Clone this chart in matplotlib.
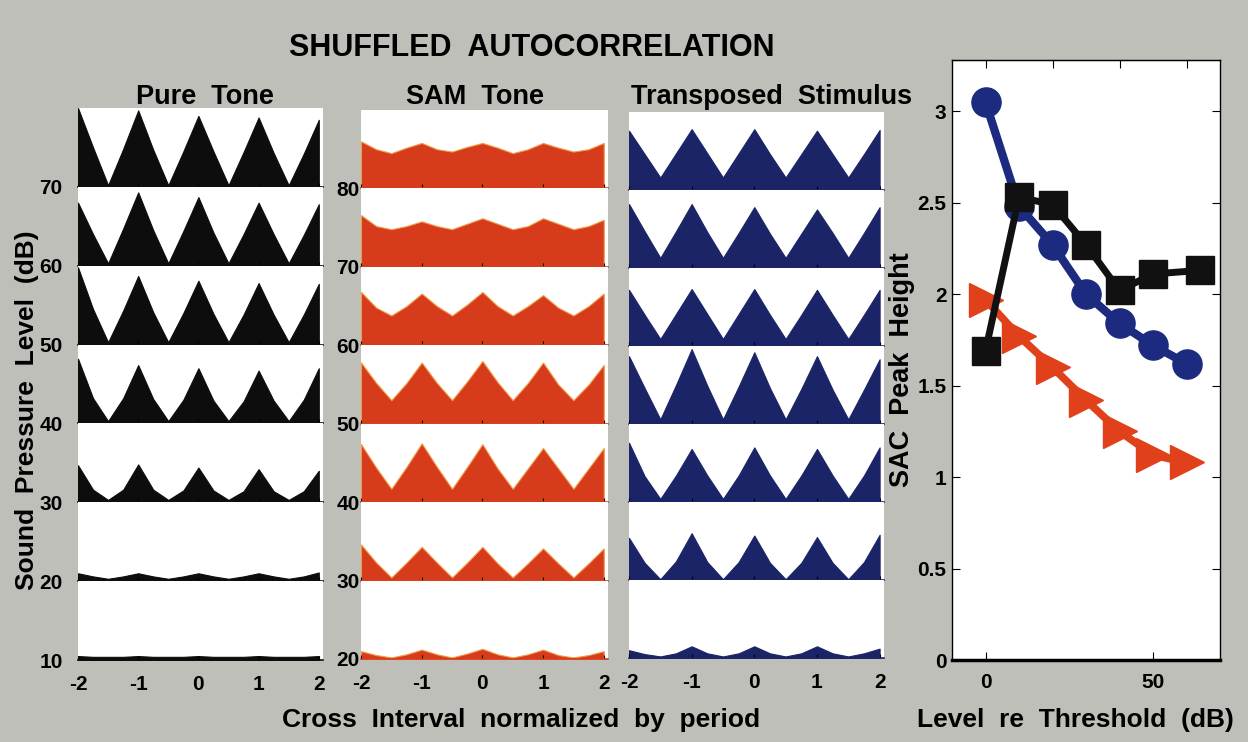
import matplotlib
matplotlib.use('Agg')
import matplotlib.pyplot as plt
import numpy as np

W, H = 1248, 742
FONT = ['Liberation Sans', 'DejaVu Sans']
BG = '#bfbfba'

# cross interval grid (normalized by period) at which the SAC curves were read
cross_interval = [-2, -1.75, -1.5, -1.25, -1, -0.75, -0.5, -0.25, 0,
                  0.25, 0.5, 0.75, 1, 1.25, 1.5, 1.75, 2]
xtick_vals = [-2, -1, 0, 1, 2]

# normalized SAC, top row first (fraction of each row's height)
pure_levels = ['70', '60', '50', '40', '30', '20', '10']
pure_sac = [
    [1.00, 0.50, 0.02, 0.48, 0.97, 0.47, 0.02, 0.45, 0.90, 0.45, 0.02, 0.44, 0.88, 0.43, 0.02, 0.42, 0.85],
    [0.80, 0.40, 0.03, 0.47, 0.93, 0.45, 0.03, 0.44, 0.87, 0.42, 0.03, 0.40, 0.80, 0.40, 0.03, 0.39, 0.78],
    [0.98, 0.45, 0.03, 0.43, 0.87, 0.41, 0.03, 0.40, 0.81, 0.39, 0.03, 0.38, 0.78, 0.38, 0.03, 0.38, 0.77],
    [0.82, 0.32, 0.03, 0.32, 0.74, 0.31, 0.03, 0.30, 0.70, 0.29, 0.03, 0.28, 0.67, 0.29, 0.03, 0.30, 0.70],
    [0.47, 0.16, 0.03, 0.16, 0.48, 0.16, 0.03, 0.15, 0.44, 0.15, 0.03, 0.14, 0.42, 0.14, 0.03, 0.14, 0.40],
    [0.10, 0.06, 0.03, 0.06, 0.10, 0.06, 0.03, 0.06, 0.10, 0.06, 0.03, 0.06, 0.10, 0.06, 0.03, 0.06, 0.11],
    [0.05, 0.04, 0.04, 0.04, 0.05, 0.04, 0.04, 0.04, 0.05, 0.04, 0.04, 0.04, 0.05, 0.04, 0.04, 0.04, 0.05],
]
sam_levels = ['80', '70', '60', '50', '40', '30', '20']
sam_sac = [
    [0.60, 0.50, 0.45, 0.52, 0.58, 0.50, 0.47, 0.53, 0.58, 0.52, 0.45, 0.50, 0.58, 0.52, 0.47, 0.50, 0.58],
    [0.66, 0.52, 0.48, 0.52, 0.58, 0.52, 0.48, 0.55, 0.62, 0.55, 0.48, 0.52, 0.62, 0.55, 0.48, 0.52, 0.60],
    [0.68, 0.48, 0.38, 0.50, 0.66, 0.50, 0.38, 0.52, 0.68, 0.50, 0.38, 0.50, 0.64, 0.48, 0.38, 0.50, 0.66],
    [0.78, 0.52, 0.30, 0.52, 0.78, 0.52, 0.30, 0.54, 0.80, 0.53, 0.30, 0.52, 0.78, 0.50, 0.30, 0.50, 0.75],
    [0.74, 0.44, 0.17, 0.45, 0.75, 0.45, 0.17, 0.45, 0.74, 0.43, 0.17, 0.43, 0.69, 0.43, 0.17, 0.43, 0.69],
    [0.46, 0.23, 0.04, 0.23, 0.43, 0.23, 0.04, 0.23, 0.43, 0.22, 0.04, 0.22, 0.41, 0.22, 0.04, 0.22, 0.41],
    [0.10, 0.05, 0.02, 0.06, 0.12, 0.06, 0.02, 0.07, 0.13, 0.06, 0.02, 0.06, 0.12, 0.05, 0.02, 0.05, 0.10],
]
trans_sac = [
    [0.76, 0.46, 0.16, 0.47, 0.78, 0.47, 0.16, 0.47, 0.78, 0.46, 0.16, 0.46, 0.76, 0.46, 0.16, 0.46, 0.77],
    [0.82, 0.47, 0.13, 0.47, 0.82, 0.46, 0.13, 0.45, 0.78, 0.44, 0.13, 0.44, 0.75, 0.45, 0.13, 0.45, 0.78],
    [0.72, 0.40, 0.09, 0.41, 0.73, 0.41, 0.09, 0.41, 0.73, 0.40, 0.09, 0.40, 0.72, 0.40, 0.09, 0.40, 0.72],
    [0.87, 0.46, 0.06, 0.50, 0.96, 0.49, 0.06, 0.48, 0.92, 0.46, 0.06, 0.45, 0.87, 0.44, 0.06, 0.44, 0.83],
    [0.76, 0.33, 0.04, 0.34, 0.68, 0.34, 0.04, 0.34, 0.70, 0.34, 0.04, 0.34, 0.68, 0.34, 0.04, 0.34, 0.70],
    [0.54, 0.22, 0.01, 0.24, 0.60, 0.23, 0.01, 0.23, 0.57, 0.22, 0.01, 0.22, 0.55, 0.22, 0.01, 0.23, 0.58],
    [0.10, 0.05, 0.02, 0.06, 0.15, 0.06, 0.02, 0.06, 0.15, 0.06, 0.02, 0.06, 0.15, 0.06, 0.02, 0.06, 0.12],
]

# SAC peak height vs level re threshold
level_re_thr = [0, 10, 20, 30, 40, 50, 60]
level_re_thr_pure = [0, 10, 20, 30, 40, 50, 64]
peak_pure = [1.69, 2.53, 2.49, 2.27, 2.02, 2.11, 2.13]
peak_sam = [1.97, 1.77, 1.60, 1.42, 1.25, 1.12, 1.08]
peak_trans = [3.05, 2.48, 2.27, 2.00, 1.84, 1.72, 1.62]


def px(x0, y0, x1, y1):
    # pixel box (top-left origin) -> figure fraction rect
    return [x0 / W, 1 - y1 / H, (x1 - x0) / W, (y1 - y0) / H]


def draw_column(rows, labels, left, right, top, bottom, color, edge, label_pad):
    n = len(rows)
    h = (bottom - top) / n
    for i, vals in enumerate(rows):
        ax = fig.add_axes(px(left, top + i * h, right, top + (i + 1) * h))
        ax.set_facecolor('white')
        ax.fill_between(cross_interval, vals, 0, facecolor=color, edgecolor=edge, lw=0.8)
        ax.set_xlim(-2, 2.07)
        ax.set_ylim(0, 1.0)
        for s in ['top', 'left', 'right']:
            ax.spines[s].set_visible(False)
        ax.spines['bottom'].set_color(color)
        ax.spines['bottom'].set_linewidth(1.2)
        ax.set_xticks(xtick_vals)
        ax.tick_params(axis='x', direction='in', length=3, color='black')
        if i == n - 1:
            ax.set_xticklabels([str(v) for v in xtick_vals], fontsize=15,
                               fontweight='bold', family=FONT)
            ax.tick_params(axis='x', pad=11)
        else:
            ax.set_xticklabels([])
        if labels is not None:
            ax.set_yticks([0])
            ax.set_yticklabels([labels[i]], fontsize=15, fontweight='bold', family=FONT)
            ax.tick_params(axis='y', length=0, pad=label_pad)
        else:
            ax.set_yticks([])


fig = plt.figure(figsize=(W / 100, H / 100), dpi=100, facecolor=BG)

draw_column(pure_sac, pure_levels, 78, 323, 108, 660, '#0d0d0d', '#0d0d0d', 11)
draw_column(sam_sac, sam_levels, 361, 608, 110, 659, '#d63c1c', '#f29a45', 1)
draw_column(trans_sac, None, 629, 884, 112, 658, '#1a2466', '#1a2466', 1)

# right panel
ax = fig.add_axes(px(952, 60, 1220, 660))
ax.set_facecolor('white')
ax.plot(level_re_thr, peak_sam, color='#e0401a', lw=5.5, marker='>', ms=25, mec='#e0401a', zorder=2)
ax.plot(level_re_thr, peak_trans, color='#1c2a80', lw=6, marker='o', ms=21, zorder=3)
ax.plot(level_re_thr_pure, peak_pure, color='#111111', lw=5, marker='s', ms=20, zorder=4)
ax.set_xlim(-10, 70)
ax.set_ylim(0, 3.28)
ax.set_xticks([0, 50])
ax.set_yticks([0, 0.5, 1, 1.5, 2, 2.5, 3])
ax.set_yticklabels(['0', '0.5', '1', '1.5', '2', '2.5', '3'])
ax.tick_params(direction='in', length=6, right=True, labelsize=15, pad=4)
ax.tick_params(axis='x', pad=9)
for lab in ax.get_xticklabels() + ax.get_yticklabels():
    lab.set_fontweight('bold')
    lab.set_family(FONT)
for s in ax.spines.values():
    s.set_linewidth(1.0)
ax.spines['bottom'].set_linewidth(2.5)
top = ax.secondary_xaxis('top')
top.set_xticks([0, 20, 40, 60])
top.set_xticklabels([])
top.tick_params(direction='in', length=6)

# texts
fig.text(532 / W, 1 - 48 / H, 'SHUFFLED  AUTOCORRELATION', ha='center', va='center',
         fontsize=22, fontweight='bold', family=FONT)
fig.text(205 / W, 1 - 97 / H, 'Pure  Tone', ha='center', va='center',
         fontsize=19.5, fontweight='bold', family=FONT)
fig.text(475 / W, 1 - 97 / H, 'SAM  Tone', ha='center', va='center',
         fontsize=19.5, fontweight='bold', family=FONT)
fig.text(772 / W, 1 - 97 / H, 'Transposed  Stimulus', ha='center', va='center',
         fontsize=19.5, fontweight='bold', family=FONT)
fig.text(27 / W, 1 - 410 / H, 'Sound  Pressure  Level  (dB)', ha='center', va='center',
         rotation=90, fontsize=19, fontweight='bold', family=FONT)
fig.text(902 / W, 1 - 370 / H, 'SAC  Peak  Height', ha='center', va='center',
         rotation=90, fontsize=19.5, fontweight='bold', family=FONT)
fig.text(521 / W, 1 - 720 / H, 'Cross  Interval  normalized  by  period', ha='center', va='center',
         fontsize=19, fontweight='bold', family=FONT)
fig.text(1075 / W, 1 - 720 / H, 'Level  re  Threshold  (dB)', ha='center', va='center',
         fontsize=19, fontweight='bold', family=FONT)

fig.savefig('out.png', dpi=100, facecolor=BG)
